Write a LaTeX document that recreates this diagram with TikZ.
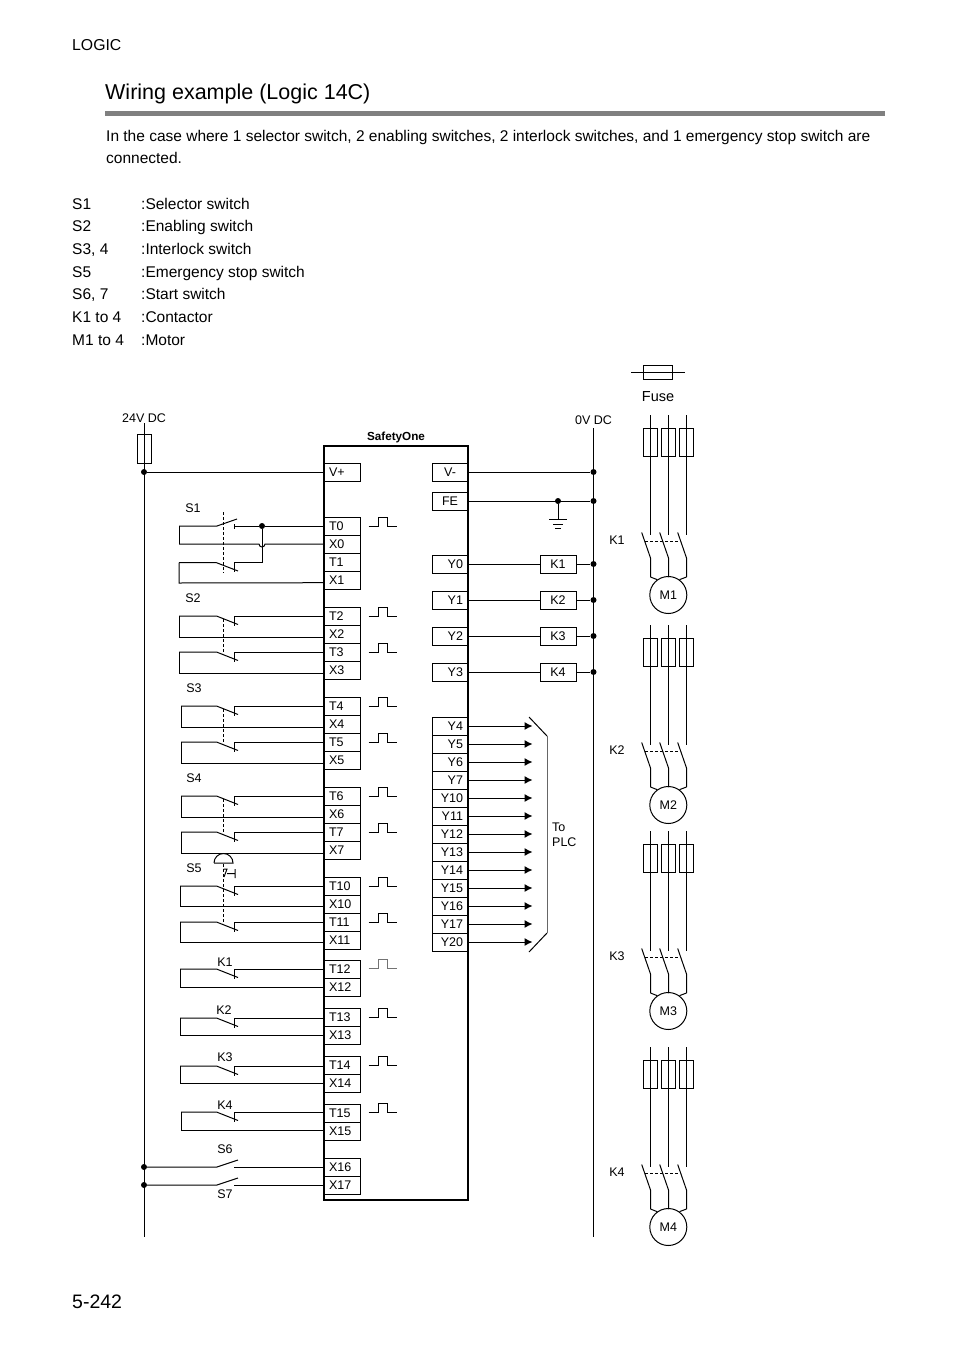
\documentclass[tikz,border=0pt]{standalone}
\usepackage{fontspec}
\setmainfont{Liberation Sans}
\usepackage{tikz}
\usetikzlibrary{arrows.meta}
\tikzset{
	wire/.style={line width=1pt,black},
	term/.style={draw,line width=1pt,minimum height=18pt,inner sep=0pt,outer sep=0pt,font=\fontsize{12.5}{14}\selectfont,text height=9pt,text depth=0pt},
	termL/.style={term,text width=26pt,inner xsep=5pt,align=left,minimum width=36pt},
	termR/.style={term,text width=26pt,inner xsep=5pt,align=right,minimum width=36pt},
	termC/.style={term,minimum width=36pt},
	lab/.style={font=\fontsize{12.5}{14}\selectfont,inner sep=0pt},
	para/.style={font=\fontsize{15.5}{18}\selectfont,inner sep=0pt,anchor=base west},
	dot/.style={circle,fill=black,minimum size=6pt,inner sep=0pt},
	fusebox/.style={draw,line width=1pt,minimum width=14.5pt,minimum height=28.5pt,inner sep=0pt},
	motor/.style={draw,circle,line width=1pt,minimum size=37pt,inner sep=0pt,font=\fontsize{12.5}{14}\selectfont}
}
\begin{document}
\begin{tikzpicture}[x=1pt,y=-1pt]
	\useasboundingbox (0,0) rectangle (954,1351);

	% page text
	\node[para] (logic) at (72,51) {\fontsize{15.8}{18}\selectfont LOGIC};
	\node[para] (title) at (105,99.5) {\fontsize{21.5}{24}\selectfont Wiring example (Logic 14C)};
	\fill[black!50] (105,111) rectangle (885,116);
	\node[para] (intro1) at (106,141.5) {In the case where 1 selector switch, 2 enabling switches, 2 interlock switches, and 1 emergency stop switch are};
	\node[para] (intro2) at (106,163.5) {connected.};
	\foreach \y/\a/\b in {209.5/S1/Selector switch,231.5/S2/Enabling switch,254.5/{S3, 4}/Interlock switch,277/S5/Emergency stop switch,299/{S6, 7}/Start switch,322/K1 to 4/Contactor,345/M1 to 4/Motor}{
		\node[para] at (72,\y) {\a};
		\node[para] at (141,\y) {:\b};
	}
	\node[para] (page) at (72,1308) {\fontsize{19.5}{22}\selectfont 5-242};

	% safety unit
	\draw[line width=2pt] (324,446) rectangle (468,1200);
	\node[font=\fontsize{11.7}{13}\selectfont\bfseries,inner sep=0pt] (unit) at (396,437) {SafetyOne};

	% terminals
	\foreach \n/\y in {V+/472,T0/526,X0/544,T1/562,X1/580,T2/616,X2/634,T3/652,X3/670,T4/706,X4/724,T5/742,X5/760,T6/796,X6/814,T7/832,X7/850,T10/886,X10/904,T11/922,X11/940,T12/969,X12/987,T13/1017,X13/1035,T14/1065,X14/1083,T15/1113,X15/1131,X16/1167,X17/1185}
		\node[termL] (\n) at (342,\y) {\n};
	\foreach \n/\y in {Y0/564,Y1/600,Y2/636,Y3/672,Y4/726,Y5/744,Y6/762,Y7/780,Y10/798,Y11/816,Y12/834,Y13/852,Y14/870,Y15/888,Y16/906,Y17/924,Y20/942}
		\node[termR] (\n) at (450,\y) {\n};
	\node[termC] (V-) at (450,472) {V-};
	\node[termC] (FE) at (450,501) {FE};

	% pulses
	\foreach \y in {526,616,652,706,742,796,832,886,922,1017,1065,1112}
		\draw[wire] (368.5,\y) -- ++(9.5,0) -- ++(0,-9) -- ++(9.5,0) -- ++(0,9) -- ++(9,0);
	\draw[wire,black!55] (368.5,968) -- ++(9.5,0) -- ++(0,-9) -- ++(9.5,0) -- ++(0,9) -- ++(9,0);

	% rails
	\node[fusebox] (F0) at (144.5,449) {};
	\coordinate (railA) at (144,423);
	\coordinate (railB) at (144,1237);
	\coordinate (railC) at (593.5,428);
	\coordinate (railD) at (593.5,1237);
	\draw[wire] (railA) -- (railB);
	\draw[wire] (railC) -- (railD);
	\node[lab] (dc24) at (144,418) {24V DC};
	\node[lab] (dc0) at (593.5,420) {0V DC};

	\node[dot] (dV) at (144,472) {};
	\draw[wire] (dV) -- (V+.west);
	\foreach \t/\y in {V-/472,FE/501}{
		\node[dot] (d\t) at (593.5,\y) {};
		\draw[wire] (\t.east) -- (d\t);
	}

	% earth
	\node[dot] (dE) at (558,501) {};
	\coordinate (gnd) at (558,519);
	\draw[wire] (dE) -- (gnd);
	\draw[wire] (549,519) -- (567,519) (553,524) -- (563,524) (555,528.5) -- (561,528.5);

	% coils
	\foreach \k/\yy/\y in {K1/Y0/564,K2/Y1/600,K3/Y2/636,K4/Y3/672}{
		\node[termC] (\k) at (558,\y) {\k};
		\node[dot] (d\k) at (593.5,\y) {};
		\draw[wire] (\yy.east) -- (\k.west);
		\draw[wire] (\k.east) -- (d\k);
	}

	% outputs
	\foreach \n/\y in {Y4/726,Y5/744,Y6/762,Y7/780,Y10/798,Y11/816,Y12/834,Y13/852,Y14/870,Y15/888,Y16/906,Y17/924,Y20/942}{
		\coordinate (to\n) at (532.5,\y);
		\draw[wire,-{Latex[length=8pt,width=8pt]}] (\n.east) -- (to\n);
	}
	\draw[wire] (529,717) -- (547,736);
	\draw[wire,black!60] (547,736) -- (547,933);
	\draw[wire] (547,933) -- (529,952);
	\node[lab,align=left,anchor=north west] (plc) at (552,823) {To\\[1pt]PLC};

	% S1
	\coordinate (s1a) at (179,526);
	\coordinate (s1b) at (179,544);
	\coordinate (s1c) at (179,562.5);
	\coordinate (s1d) at (179,583);
	\node[dot] (dS1) at (262,526) {};
	\draw[wire] (T0.west) -- (dS1) -- (234,526);
	\draw[wire] (234,524) -- (234,529);
	\draw[wire] (s1a) -- (217,526) -- (237,519);
	\draw[wire] (s1a) -- (s1b);
	\draw[wire] (s1b) -- (259,544) arc (180:0:3) -- (X0.west);
	\draw[wire] (dS1) -- (262,562.5) -- (234,562.5) -- (234,572);
	\draw[wire] (s1c) -- (216,562.5) -- (238,571);
	\draw[wire] (s1c) -- (s1d) -- ([yshift=-2.7pt]X1.west);
	\draw[wire,densely dashed,line width=.8pt] (223,512) -- (223,573);

	% remaining switches
	\foreach \t/\x/\lx/\ya/\yb in {T2/X2/179/616/637,T3/X3/179/652/673,T4/X4/181/706/727,T5/X5/181/742/763,T6/X6/181/796/817,T7/X7/181/832/853,T10/X10/180/886/906,T11/X11/180/922/942,T12/X12/180/969/987,T13/X13/180/1018/1035,T14/X14/180/1066/1083,T15/X15/181/1112/1130}{
		\coordinate (sw\t a) at (\lx,\ya);
		\coordinate (sw\t b) at (\lx,\yb);
		\coordinate (sw\t c) at (234,\ya);
		\draw[wire] (\t.west |- sw\t c) -- (sw\t c) -- ++(0,10);
		\draw[wire] (sw\t a) -- (216.5,\ya) -- ++(21.5,8.5);
		\draw[wire] (sw\t a) -- (sw\t b) -- (\x.west |- sw\t b);
	}
	\foreach \ya/\yb in {619/652,709/742,799/832,864/923}
		\draw[wire,densely dashed,line width=.8pt] (223,\ya) -- (223,\yb);

	% S5 head
	\draw[wire] (214,863) -- (233,863) arc (0:-180:9.5);
	\draw[wire] (223.5,869) -- (227,869) -- (224,877) (227,873.5) -- (235,873.5) (235,869) -- (235,878);

	% S6 S7
	\foreach \x/\y in {X16/1167,X17/1185}{
		\node[dot] (d\x) at (144,\y) {};
		\coordinate (c\x) at (234,\y);
		\draw[wire] (d\x) -- (217,\y) -- ++(21,-7);
		\draw[wire] (c\x) -- (\x.west);
	}

	% switch labels
	\foreach \n/\x/\y in {S1/193/508,S2/193/598,S3/194/688,S4/194/778,S5/194/868,K1/225/962,K2/224/1010,K3/225/1057,K4/225/1105,S6/225/1149,S7/225/1194}
		\node[lab] (lb\n) at (\x,\y) {\n};

	% fuse key
	\node[draw,line width=1pt,minimum width=29pt,minimum height=14pt,inner sep=0pt] (keyF) at (657.7,372) {};
	\coordinate (keyA) at (631,372);
	\coordinate (keyB) at (685,372);
	\draw[wire] (keyA) -- (keyB);
	\node[lab,font=\fontsize{14.5}{16}\selectfont] (fuse) at (658,397) {Fuse};

	% motors
	\foreach \i/\o in {1/0,2/210,3/416,4/632}{
		\node[lab] (KL\i) at (617,540+\o) {K\i};
		\node[motor] (M\i) at (668.3,595+\o) {M\i};
		\foreach \p/\q in {A/650.5,B/668.5,C/686.5}{
			\node[fusebox] (F\i\p) at (\q,442.5+\o) {};
			\coordinate (t\i\p) at (\q,415+\o);
			\coordinate (u\i\p) at (\q,535+\o);
			\coordinate (v\i\p) at (\q,558+\o);
			\draw[wire] (t\i\p) -- (u\i\p);
			\draw[wire] (\q-8.8,532.5+\o) -- (v\i\p) -- (\q,577+\o);
		}
		\draw[wire] (650.5,577+\o) -- (M\i.126);
		\draw[wire] (668.5,577+\o) -- (M\i.90);
		\draw[wire] (686.5,577+\o) -- (M\i.54);
		\draw[wire,densely dashed,line width=.8pt] (645,541+\o) -- (680,541+\o);
	}
\end{tikzpicture}
\end{document}
